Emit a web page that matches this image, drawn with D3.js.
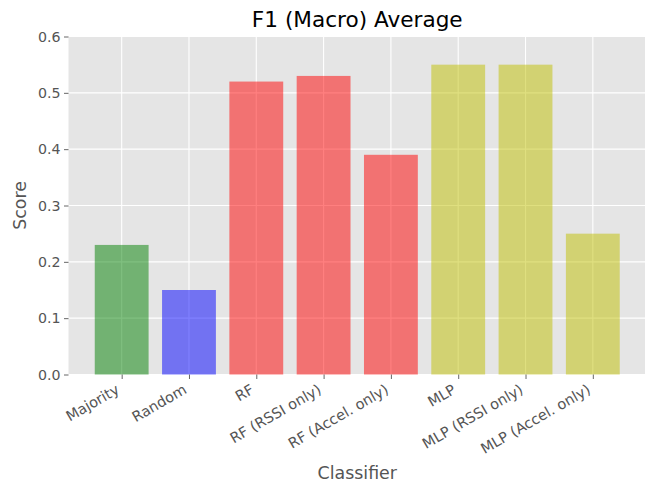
<!DOCTYPE html>
<html>
<head>
<meta charset="utf-8">
<script src="https://cdn.jsdelivr.net/npm/d3@7"></script>
<style>
body { margin: 0; background: #fff; }
</style>
</head>
<body>
<svg id="chart" width="645" height="483"></svg>
<script>
// data
var classifiers = ["Majority", "Random", "RF", "RF (RSSI only)", "RF (Accel. only)",
                   "MLP", "MLP (RSSI only)", "MLP (Accel. only)"];
var scores = [0.23, 0.15, 0.52, 0.53, 0.39, 0.55, 0.55, 0.25];
var barColors = ["green", "blue", "red", "red", "red", "#bfbf00", "#bfbf00", "#bfbf00"];
var yTicks = [0.0, 0.1, 0.2, 0.3, 0.4, 0.5, 0.6];

var font = "DejaVu Sans";

var margin = {top: 36.5, right: -1, bottom: 108.5, left: 68.5},
    width = 645 - margin.left - margin.right,
    height = 483 - margin.top - margin.bottom;

var svg = d3.select("#chart").attr("font-family", font);
var g = svg.append("g")
    .attr("transform", "translate(" + margin.left + "," + margin.top + ")");

// matplotlib style: bars of width 0.8 at integer positions, 5% margins
var x = d3.scaleLinear()
    .domain([-0.79, classifiers.length - 1 + 0.79])
    .range([0, width]);

var y = d3.scaleLinear()
    .domain([0, 0.6])
    .range([height, 0]);

g.append("rect")
    .attr("width", width)
    .attr("height", height)
    .attr("fill", "#e5e5e5");

// grid
g.append("g")
    .selectAll("line.gy")
    .data(yTicks)
    .enter().append("line")
    .attr("x1", 0).attr("x2", width)
    .attr("y1", function(d) { return y(d); })
    .attr("y2", function(d) { return y(d); })
    .attr("stroke", "#fff").attr("stroke-width", 1.1);

g.append("g")
    .selectAll("line.gx")
    .data(classifiers)
    .enter().append("line")
    .attr("x1", function(d, i) { return x(i); })
    .attr("x2", function(d, i) { return x(i); })
    .attr("y1", 0).attr("y2", height)
    .attr("stroke", "#fff").attr("stroke-width", 1.1);

// bars
g.selectAll("rect.bar")
    .data(scores)
    .enter().append("rect")
    .attr("class", "bar")
    .attr("x", function(d, i) { return x(i - 0.4); })
    .attr("width", x(0.8) - x(0))
    .attr("y", function(d) { return y(d); })
    .attr("height", function(d) { return height - y(d); })
    .attr("fill", function(d, i) { return barColors[i]; })
    .attr("fill-opacity", 0.5);

// y axis
var yAxis = g.append("g")
    .call(d3.axisLeft(y).tickValues(yTicks).tickFormat(d3.format(".1f"))
        .tickSize(4.5).tickPadding(3.5));
yAxis.attr("font-family", font).attr("font-size", 14.2);
yAxis.select(".domain").remove();
yAxis.selectAll("line").attr("stroke", "#555").attr("stroke-width", 0.9);
yAxis.selectAll("text").attr("fill", "#555");

// x axis
var xAxis = g.append("g")
    .attr("transform", "translate(0," + height + ")")
    .call(d3.axisBottom(x).tickValues(d3.range(classifiers.length))
        .tickFormat(function(i) { return classifiers[i]; })
        .tickSize(4.5));
xAxis.attr("font-family", font).attr("font-size", 14.5);
xAxis.select(".domain").remove();
xAxis.selectAll("line").attr("stroke", "#555").attr("stroke-width", 0.9);
xAxis.selectAll("text")
    .attr("fill", "#555")
    .attr("text-anchor", "end")
    .attr("dominant-baseline", "hanging")
    .attr("x", -7)
    .attr("y", 9)
    .attr("dy", null)
    .attr("transform", "rotate(-30,-7,9)");

// title and labels
svg.append("text")
    .attr("x", margin.left + width / 2)
    .attr("y", 27.3)
    .attr("text-anchor", "middle")
    .attr("font-size", 21.6)
    .attr("fill", "#000")
    .text("F1 (Macro) Average");

svg.append("text")
    .attr("x", margin.left + width / 2)
    .attr("y", 479)
    .attr("text-anchor", "middle")
    .attr("font-size", 17.4)
    .attr("fill", "#555")
    .text("Classifier");

svg.append("text")
    .attr("transform", "translate(26," + (margin.top + height / 2) + ") rotate(-90)")
    .attr("text-anchor", "middle")
    .attr("font-size", 17.4)
    .attr("fill", "#555")
    .text("Score");
</script>
</body>
</html>
